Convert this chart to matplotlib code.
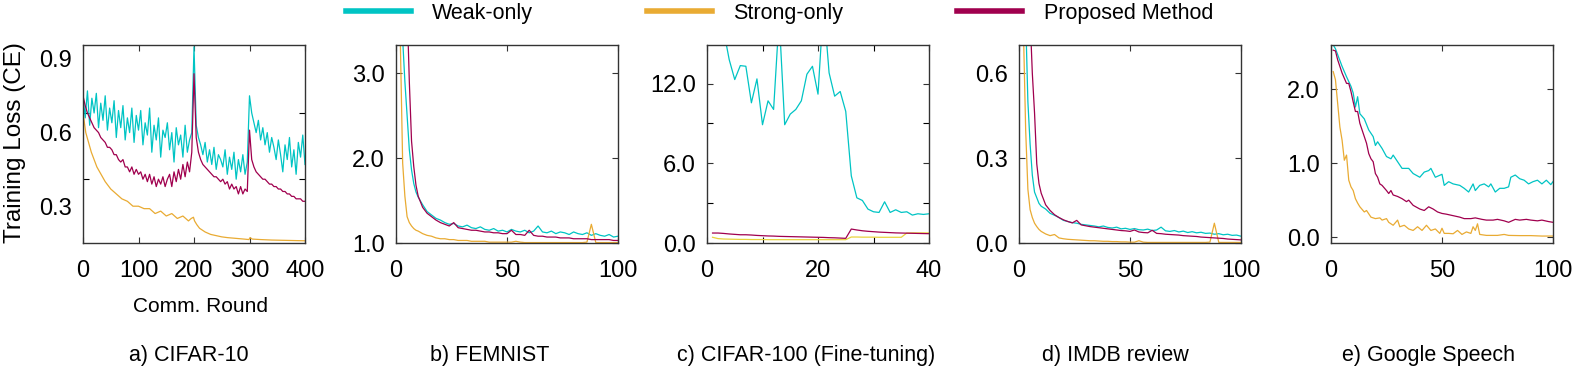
import numpy as np
import matplotlib
matplotlib.use("Agg")
import matplotlib.pyplot as plt
from matplotlib.lines import Line2D
from matplotlib.ticker import FormatStrFormatter

plt.rcParams['font.family'] = ['Liberation Sans', 'DejaVu Sans']

# --- Colours / labels ---
C_WEAK = '#00C4C4'
C_STRONG = '#E9AB33'
C_PROP = '#A0004E'
LEGEND_LABELS = ['Weak-only', 'Strong-only', 'Proposed Method']
TITLES = ['a) CIFAR-10', 'b) FEMNIST', 'c) CIFAR-100 (Fine-tuning)', 'd) IMDB review', 'e) Google Speech']

# --- a) CIFAR-10 (rounds 0..400, every 4th round) ---
c10_x = list(range(0, 401, 4))
c10_weak = [0.75, 0.66, 0.77, 0.63, 0.74, 0.68, 0.76, 0.62, 0.72, 0.65, 0.75, 0.61, 0.70,
            0.64, 0.73, 0.58, 0.69, 0.62, 0.71, 0.57, 0.66, 0.60, 0.70, 0.56, 0.67, 0.61,
            0.69, 0.55, 0.64, 0.59, 0.70, 0.52, 0.63, 0.57, 0.66, 0.50, 0.61, 0.58,
            0.64, 0.53, 0.60, 0.48, 0.62, 0.55, 0.59, 0.50, 0.63, 0.52, 0.57, 0.60,
            0.95,
            0.63, 0.58, 0.55, 0.51, 0.56, 0.48, 0.53, 0.47, 0.54, 0.45, 0.51, 0.49,
            0.46, 0.53, 0.43, 0.50, 0.45, 0.52, 0.41, 0.49, 0.44, 0.51, 0.43, 0.48,
            0.75,
            0.68, 0.64, 0.60, 0.65, 0.57, 0.62, 0.55, 0.60, 0.52, 0.58, 0.54, 0.49,
            0.57, 0.51, 0.44, 0.55, 0.49, 0.58, 0.46, 0.53, 0.43, 0.56, 0.50, 0.59, 0.47]
c10_prop = [0.75, 0.71, 0.68, 0.66, 0.64, 0.62, 0.61, 0.60, 0.58, 0.57, 0.56, 0.54, 0.54,
            0.53, 0.51, 0.51, 0.49, 0.48, 0.49, 0.46, 0.46, 0.44, 0.46, 0.43, 0.45, 0.43,
            0.44, 0.41, 0.43, 0.40, 0.43, 0.39, 0.42, 0.38, 0.41, 0.39, 0.42, 0.38,
            0.41, 0.43, 0.38, 0.44, 0.40, 0.45, 0.41, 0.47, 0.42, 0.48, 0.44, 0.52,
            0.84,
            0.58, 0.52, 0.49, 0.47, 0.46, 0.45, 0.44, 0.43, 0.42, 0.42, 0.41, 0.40,
            0.41, 0.39, 0.40, 0.37, 0.39, 0.37, 0.38, 0.35, 0.38, 0.35, 0.37, 0.36,
            0.61,
            0.49, 0.46, 0.44, 0.43, 0.42, 0.41, 0.41, 0.40, 0.39, 0.39, 0.38, 0.38,
            0.37, 0.37, 0.36, 0.36, 0.35, 0.35, 0.34, 0.34, 0.33, 0.33, 0.33, 0.32, 0.32]
c10_strong_x = [0, 5, 10, 15, 20, 25, 30, 40, 50, 60, 70, 80, 90, 100, 110, 120, 130, 140, 150, 160,
                170, 180, 190, 195, 199, 201, 205, 210, 220, 230, 240, 250, 260, 270, 280, 290, 299,
                301, 305, 320, 340, 360, 380, 400]
c10_strong = [0.68, 0.60, 0.56, 0.52, 0.49, 0.46, 0.44, 0.40, 0.37, 0.35, 0.33, 0.32, 0.30, 0.30,
              0.29, 0.29, 0.27, 0.28, 0.26, 0.27, 0.25, 0.26, 0.24, 0.25, 0.255, 0.24, 0.225, 0.21,
              0.195, 0.185, 0.18, 0.175, 0.172, 0.17, 0.168, 0.166, 0.164, 0.172, 0.166, 0.164,
              0.162, 0.161, 0.160, 0.159]

# --- b) FEMNIST / d) IMDB (rounds 1..20, then every 2nd round) ---
r100_x = [1, 2, 3, 4, 5, 6, 7, 8, 9, 10, 12, 14, 16, 18, 20] + list(range(22, 101, 2))
fem_weak = [6.0, 4.5, 3.4, 2.9, 2.5, 2.1, 1.86, 1.7, 1.6, 1.54, 1.45, 1.37, 1.33, 1.29, 1.27,
            1.24, 1.22, 1.23, 1.20, 1.19, 1.21, 1.18, 1.17, 1.19, 1.16, 1.15, 1.17, 1.14, 1.15, 1.13,
            1.16, 1.14, 1.13, 1.15, 1.12, 1.14, 1.20, 1.13, 1.12, 1.14, 1.11, 1.13, 1.12, 1.10, 1.13,
            1.11, 1.10, 1.12, 1.09, 1.11, 1.09, 1.08, 1.10, 1.07, 1.08]
fem_prop = [9.0, 7.5, 6.0, 4.8, 3.8, 2.9, 2.2, 1.9, 1.68, 1.55, 1.42, 1.35, 1.31, 1.27, 1.24,
            1.22, 1.20, 1.24, 1.18, 1.17, 1.16, 1.15, 1.15, 1.14, 1.13, 1.13, 1.12, 1.12, 1.11, 1.11,
            1.15, 1.10, 1.10, 1.09, 1.15, 1.09, 1.08, 1.08, 1.07, 1.07, 1.07, 1.06, 1.06, 1.06, 1.05,
            1.05, 1.05, 1.05, 1.04, 1.04, 1.04, 1.04, 1.04, 1.03, 1.03]
fem_strong = [5.0, 3.3, 1.94, 1.55, 1.31, 1.24, 1.2, 1.17, 1.15, 1.14, 1.11, 1.09, 1.08, 1.06, 1.05,
              1.05, 1.04, 1.04, 1.03, 1.03, 1.03, 1.02, 1.02, 1.02, 1.02, 1.01, 1.01, 1.01, 1.01, 1.01,
              1.01, 1.02, 1.01, 1.005, 1.005, 1.005, 1.005, 1.005, 1.005, 1.005, 1.005, 1.005, 1.005, 1.005, 1.005,
              1.005, 1.005, 1.01, 1.22, 1.005, 1.005, 1.005, 1.005, 1.005, 1.005]

imdb_weak = [1.6, 1.2, 0.8, 0.5, 0.35, 0.24, 0.18, 0.16, 0.14, 0.13, 0.12, 0.105, 0.098, 0.09, 0.08,
             0.076, 0.072, 0.070, 0.066, 0.064, 0.062, 0.060, 0.057, 0.060, 0.055,
             0.053, 0.056, 0.050, 0.052, 0.048, 0.051, 0.047, 0.046, 0.049, 0.044,
             0.046, 0.056, 0.043, 0.041, 0.044, 0.039, 0.042, 0.037, 0.040, 0.036,
             0.038, 0.034, 0.035, 0.031, 0.033, 0.029, 0.031, 0.027, 0.028, 0.024]
imdb_prop = [2.5, 2.0, 1.5, 1.1, 0.8, 0.6, 0.46, 0.28, 0.21, 0.176, 0.135, 0.115, 0.10, 0.09, 0.082,
             0.076, 0.071, 0.080, 0.064, 0.061, 0.058, 0.056, 0.054, 0.052, 0.050,
             0.048, 0.046, 0.044, 0.043, 0.041, 0.046, 0.039, 0.037, 0.036, 0.045,
             0.034, 0.033, 0.031, 0.030, 0.029, 0.028, 0.026, 0.025, 0.024, 0.023,
             0.021, 0.020, 0.019, 0.018, 0.017, 0.016, 0.014, 0.013, 0.012, 0.011]
imdb_strong = [1.2, 0.75, 0.4, 0.19, 0.118, 0.09, 0.07, 0.058, 0.048, 0.041, 0.032, 0.026, 0.030, 0.018, 0.015,
               0.013, 0.012, 0.011, 0.010, 0.009, 0.008, 0.008, 0.007, 0.006, 0.006,
               0.005, 0.005, 0.004, 0.004, 0.003, 0.003, 0.008, 0.003, 0.002, 0.002,
               0.002, 0.002, 0.002, 0.002, 0.002, 0.002, 0.002, 0.002, 0.002, 0.002,
               0.002, 0.002, 0.003, 0.070, 0.002, 0.002, 0.002, 0.002, 0.002, 0.002]

# --- c) CIFAR-100 fine-tuning (rounds 1..40) ---
c100_x = list(range(1, 41))
c100_weak = [17.0, 16.5, 16.0, 13.8, 12.3, 13.35, 13.3, 10.55, 12.35, 8.9, 10.7, 10.05, 17.0, 8.9,
             9.7, 10.05, 10.7, 12.7, 13.3, 11.2, 18.0, 12.8, 11.05, 11.4, 9.9, 5.05, 3.4, 3.2,
             2.55, 2.35, 2.3, 3.1, 2.3, 2.5, 2.3, 2.35, 2.1, 2.2, 2.15, 2.2]
c100_prop = [0.75, 0.75, 0.72, 0.68, 0.65, 0.62, 0.62, 0.60, 0.57, 0.55, 0.53, 0.52, 0.50, 0.49,
             0.48, 0.47, 0.46, 0.45, 0.44, 0.43, 0.42, 0.40, 0.39, 0.37, 0.35, 1.05, 0.98, 0.92,
             0.88, 0.85, 0.82, 0.80, 0.78, 0.76, 0.75, 0.74, 0.73, 0.72, 0.71, 0.70]
c100_strong = [0.43, 0.33, 0.30, 0.29, 0.28, 0.27, 0.27, 0.26, 0.26, 0.26, 0.25, 0.25, 0.25, 0.25,
               0.25, 0.25, 0.25, 0.25, 0.25, 0.25, 0.25, 0.25, 0.25, 0.25, 0.25, 0.45, 0.45, 0.44,
               0.44, 0.44, 0.43, 0.43, 0.43, 0.43, 0.43, 0.75, 0.76, 0.76, 0.76, 0.76]

# --- e) Google Speech ---
gs_weak_x = [1, 2, 3, 5, 7, 9, 10, 11, 12, 13, 15, 17, 19, 20, 21, 23, 25, 27, 28, 30, 32, 35, 37, 40,
             42, 44, 45, 47, 50, 51, 53, 55, 58, 60, 62, 64, 65, 67, 69, 71, 72, 74, 76, 78, 80, 81,
             83, 85, 87, 89, 91, 93, 95, 97, 99, 100]
gs_weak = [2.6, 2.55, 2.47, 2.31, 2.17, 2.04, 1.95, 1.76, 1.9, 1.67, 1.6, 1.45, 1.36, 1.24, 1.29,
           1.2, 1.09, 1.06, 1.11, 1.02, 0.93, 0.93, 0.86, 0.81, 0.88, 0.9, 0.93, 0.81, 0.85, 0.7,
           0.75, 0.72, 0.7, 0.66, 0.61, 0.72, 0.63, 0.7, 0.72, 0.68, 0.72, 0.61, 0.66, 0.66, 0.68,
           0.81, 0.84, 0.79, 0.77, 0.72, 0.75, 0.77, 0.72, 0.77, 0.71, 0.75]
gs_prop_x = [1, 2, 3, 5, 7, 8, 9, 10, 11, 12, 13, 15, 16, 17, 18, 19, 20, 21, 22, 23, 25, 26, 27, 28,
             30, 32, 34, 35, 37, 40, 42, 44, 46, 48, 50, 52, 55, 58, 60, 63, 65, 68, 70, 73, 75, 78,
             80, 83, 85, 88, 90, 93, 95, 98, 100]
gs_prop = [2.53, 2.52, 2.4, 2.22, 2.08, 2.08, 1.97, 1.83, 1.7, 1.7, 1.54, 1.36, 1.27, 1.13, 1.06,
           1.02, 0.86, 0.81, 0.72, 0.7, 0.63, 0.59, 0.63, 0.57, 0.55, 0.52, 0.48, 0.5, 0.43, 0.38,
           0.36, 0.41, 0.38, 0.34, 0.32, 0.31, 0.29, 0.27, 0.25, 0.25, 0.26, 0.24, 0.23, 0.23, 0.24,
           0.22, 0.2, 0.24, 0.23, 0.24, 0.23, 0.22, 0.23, 0.21, 0.2]
gs_strong_x = [1, 2, 3, 4, 5, 6, 7, 8, 9, 10, 11, 12, 13, 15, 16, 18, 20, 22, 23, 25, 26, 28, 30, 31,
               33, 35, 37, 39, 41, 43, 45, 47, 49, 50, 51, 53, 55, 57, 59, 61, 63, 64, 65, 66, 67,
               70, 75, 78, 80, 85, 90, 95, 100]
gs_strong = [2.24, 2.13, 1.81, 1.49, 1.31, 1.04, 1.11, 0.77, 0.68, 0.63, 0.52, 0.46, 0.41, 0.34,
             0.36, 0.27, 0.25, 0.26, 0.23, 0.25, 0.2, 0.16, 0.23, 0.14, 0.16, 0.11, 0.09, 0.14, 0.09,
             0.16, 0.09, 0.11, 0.05, 0.12, 0.05, 0.05, 0.045, 0.09, 0.036, 0.07, 0.05, 0.14, 0.09,
             0.18, 0.036, 0.023, 0.023, 0.036, 0.023, 0.02, 0.02, 0.014, 0.014]

# --- Figure ---
W, H = 1578, 377
fig = plt.figure(figsize=(W / 100, H / 100), dpi=100)
lefts = [83, 396, 707, 1019, 1331]
axes = [fig.add_axes([l / W, 1 - 243 / H, 222 / W, 198 / H]) for l in lefts]

panels = [
    (c10_x, c10_weak, c10_strong_x, c10_strong, c10_x, c10_prop),
    (r100_x, fem_weak, r100_x, fem_strong, r100_x, fem_prop),
    (c100_x, c100_weak, c100_x, c100_strong, c100_x, c100_prop),
    (r100_x, imdb_weak, r100_x, imdb_strong, r100_x, imdb_prop),
    (gs_weak_x, gs_weak, gs_strong_x, gs_strong, gs_prop_x, gs_prop),
]
xlims = [(0, 400), (0, 100), (0, 40), (0, 100), (0, 100)]
ylims = [(0.15, 0.957), (1.0, 3.33), (0.0, 14.9), (0.0, 0.7), (-0.08, 2.6)]
xticks = [[0, 100, 200, 300, 400], [0, 50, 100], [0, 20, 40], [0, 50, 100], [0, 50, 100]]
yticks = [[0.3, 0.6, 0.9], [1.0, 2.0, 3.0], [0.0, 6.0, 12.0], [0.0, 0.3, 0.6], [0.0, 1.0, 2.0]]

for i, ax in enumerate(axes):
    wx, wy, sx, sy, px, py = panels[i]
    strong_col = '#E8D33C' if i == 2 else C_STRONG
    ax.plot(wx, wy, color=C_WEAK, lw=0.9)
    ax.plot(sx, sy, color=strong_col, lw=0.9)
    ax.plot(px, py, color=C_PROP, lw=0.9)
    ax.set_xlim(*xlims[i])
    ax.set_ylim(*ylims[i])
    ax.set_xticks(xticks[i])
    ax.set_yticks(yticks[i])
    ax.xaxis.set_major_formatter(FormatStrFormatter('%d'))
    ax.yaxis.set_major_formatter(FormatStrFormatter('%.1f'))
    ax.tick_params(direction='in', length=4, width=0.8, top=True, right=True,
                   labelsize=17, colors='#333333', labelcolor='black')
    ax.tick_params(axis='x', pad=12)
    ax.tick_params(axis='y', pad=8)
    for s in ax.spines.values():
        s.set_color('#333333')
        s.set_linewidth(1.0)

# panel a: tick marks sit between the labels
axes[0].tick_params(axis='y', which='major', length=0)
axes[0].set_yticks([0.409, 0.681], minor=True)
axes[0].tick_params(axis='y', which='minor', direction='in', length=4, width=0.8, right=True)
axes[2].set_yticks([3.0, 9.0], minor=True)
axes[2].set_xticks([10, 30], minor=True)
axes[2].tick_params(which='minor', direction='in', length=4, width=0.8, top=True, right=True)

# --- Labels ---
fig.text(15 / W, 1 - 143 / H, 'Training Loss (CE)', rotation=90, ha='center', va='center', fontsize=17.5)
fig.text(200 / W, 1 - 306 / H, 'Comm. Round', ha='center', va='center', fontsize=15)
title_x = [189, 490, 806, 1115, 1429]
for tx, t in zip(title_x, TITLES):
    fig.text(tx / W, 1 - 355 / H, t, ha='center', va='center', fontsize=15.5)

handles = [Line2D([], [], color=c, lw=4) for c in (C_WEAK, C_STRONG, C_PROP)]
fig.legend(handles, LEGEND_LABELS, loc='center', bbox_to_anchor=(0.494, 1 - 13 / H), ncol=3,
           frameon=False, fontsize=15.5, handlelength=3.0, handletextpad=1.0, columnspacing=5.3)

fig.savefig('out.png', dpi=100)
